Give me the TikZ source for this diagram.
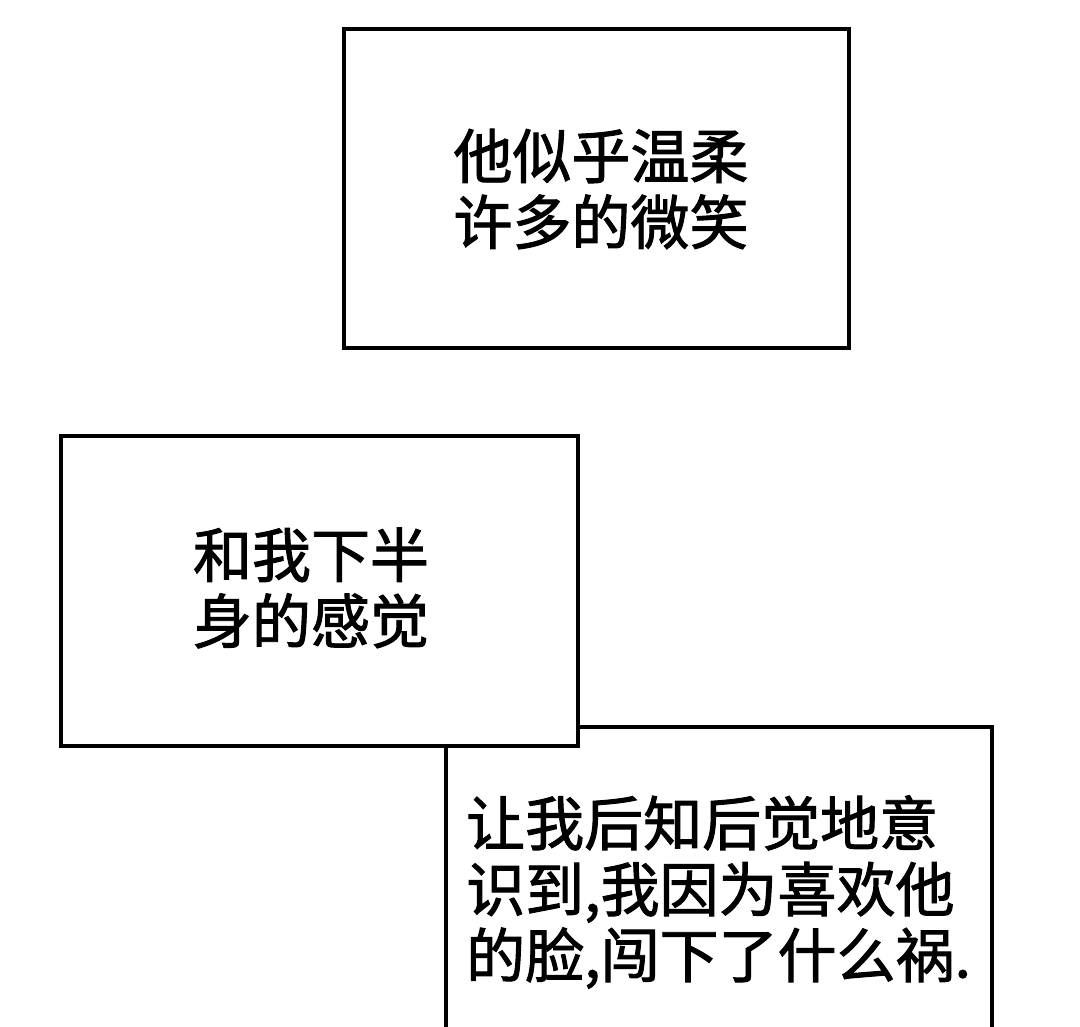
\documentclass[tikz,border=0pt]{standalone}
\usepackage{fontspec}
\setmainfont{Noto Sans CJK SC}
\newfontfamily\capfont{Noto Sans CJK SC}[FakeBold=1.6]
\begin{document}
\begin{tikzpicture}[x=1pt,y=1pt,
  panel/.style={draw=black,line width=3.2pt,fill=white},
  caption/.style={inner sep=0pt,align=left,font=\capfont\fontsize{59}{66}\selectfont}]
\useasboundingbox (0,0) rectangle (1080,-1027);
\clip (0,0) rectangle (1080,-1027);
\fill[white] (0,0) rectangle (1080,-1027);
% box 3 (behind)
\draw[panel] (446,-1060) -- (446,-727) -- (992,-727) -- (992,-1060);
% box 1
\node[panel,minimum width=505pt,minimum height=319pt,inner sep=0pt] (b1) at (596.5,-188.5) {};
% box 2
\node[panel,minimum width=517pt,minimum height=310pt,inner sep=0pt] (b2) at (319.5,-591) {};
\node[caption] (t1) at (601,-189) {他似乎温柔\\许多的微笑};
\node[caption] (t2) at (311,-588) {和我下半\\身的感觉};
\node[caption,anchor=west] (t3) at (466,-892) {让我后知后觉地意\\识到,我因为喜欢他\\的脸,闯下了什么祸.};
\end{tikzpicture}
\end{document}
